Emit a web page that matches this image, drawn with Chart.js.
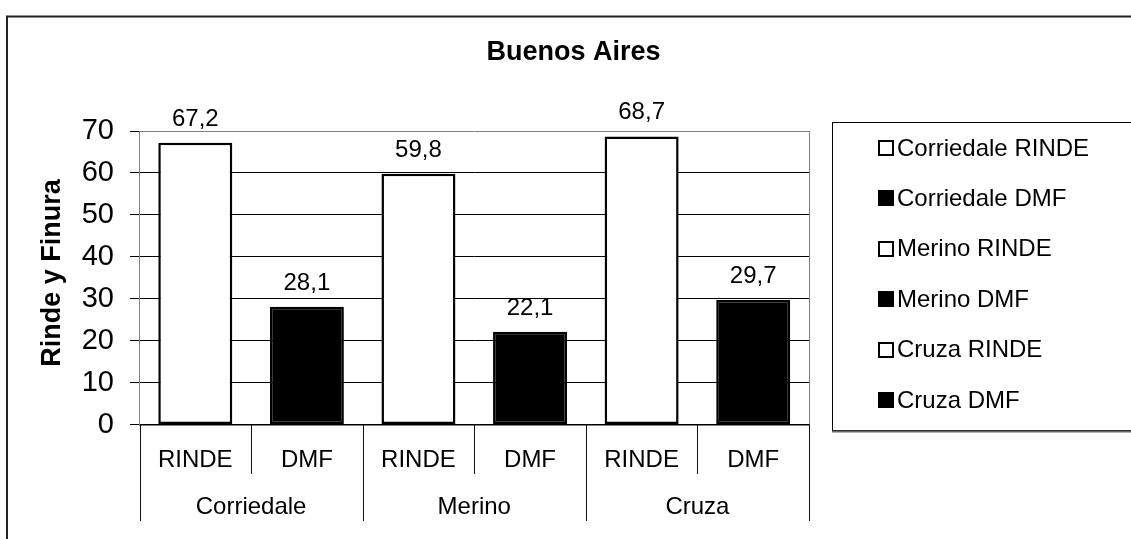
<!DOCTYPE html>
<html>
<head>
<meta charset="utf-8">
<script src="https://cdn.jsdelivr.net/npm/chart.js@4"></script>
<style>
  html, body { margin: 0; padding: 0; background: #fff; }
  canvas { display: block; }
</style>
</head>
<body>
<canvas id="c" width="1131" height="539"></canvas>
<script>
const chartTitle = 'Buenos Aires';
const yAxisTitle = 'Rinde y Finura';
const breeds = ['Corriedale', 'Merino', 'Cruza'];
const measures = ['RINDE', 'DMF'];
const rindeValues = [67.2, 59.8, 68.7];
const dmfValues = [28.1, 22.1, 29.7];
const yMin = 0, yMax = 70, yStep = 10;

const FONT = '"Liberation Sans", Arial, sans-serif';

const categoryLabels = [];
breeds.forEach(b => measures.forEach(m => categoryLabels.push(b + ' ' + m)));

const datasets = [];
breeds.forEach((b, i) => {
  measures.forEach((m, j) => {
    const v = m === 'RINDE' ? rindeValues[i] : dmfValues[i];
    datasets.push({
      label: b + ' ' + m,
      measure: m,
      data: [{ x: b + ' ' + m, y: v }],
      backgroundColor: m === 'RINDE' ? '#ffffff' : '#000000',
      borderColor: '#000000',
      borderWidth: 2.5,
      borderSkipped: false
    });
  });
});

const PLOT = { left: 139.5, right: 809, top: 131, bottom: 424.5 };

const decor = {
  id: 'decor',
  beforeDraw(chart) {
    const ctx = chart.ctx;
    ctx.save();
    ctx.fillStyle = '#fff';
    ctx.fillRect(0, 0, chart.width, chart.height);
    ctx.restore();
  },
  afterDraw(chart) {
    const ctx = chart.ctx;
    const ca = chart.chartArea;
    const xs = chart.scales.x;
    ctx.save();

    // plot right border (gray)
    ctx.strokeStyle = '#808080';
    ctx.lineWidth = 1;
    ctx.beginPath();
    ctx.moveTo(Math.round(ca.right) + 0.5, ca.top);
    ctx.lineTo(Math.round(ca.right) + 0.5, ca.bottom);
    ctx.stroke();

    // data labels
    ctx.fillStyle = '#000';
    ctx.font = '24px ' + FONT;
    ctx.textAlign = 'center';
    ctx.textBaseline = 'alphabetic';
    chart.data.datasets.forEach((ds, di) => {
      const meta = chart.getDatasetMeta(di);
      meta.data.forEach((el, k) => {
        const v = ds.data[k].y;
        ctx.fillText(v.toFixed(1).replace('.', ','), el.x, el.y - 17);
      });
    });

    // category separators and labels
    const n = categoryLabels.length;
    const slot = (ca.right - ca.left) / n;
    ctx.strokeStyle = '#111';
    ctx.lineWidth = 1;
    for (let i = 0; i <= n; i++) {
      const x = Math.round(ca.left + i * slot) + 0.5;
      const long = (i % measures.length) === 0;
      ctx.beginPath();
      ctx.moveTo(x, ca.bottom);
      ctx.lineTo(x, long ? 521 : 474);
      ctx.stroke();
    }
    ctx.font = '24px ' + FONT;
    ctx.textBaseline = 'middle';
    ctx.textAlign = 'center';
    categoryLabels.forEach((lab, i) => {
      const x = xs.getPixelForValue(i);
      ctx.fillText(measures[i % measures.length], x, 460);
    });
    breeds.forEach((b, g) => {
      const x1 = xs.getPixelForValue(g * measures.length);
      const x2 = xs.getPixelForValue(g * measures.length + measures.length - 1);
      ctx.fillText(b, (x1 + x2) / 2, 507);
    });

    // title
    ctx.font = 'bold 27px ' + FONT;
    ctx.fillText(chartTitle, 573.5, 53);

    // y axis title
    ctx.save();
    ctx.translate(53, 273);
    ctx.rotate(-Math.PI / 2);
    ctx.font = 'bold 27px ' + FONT;
    ctx.fillText(yAxisTitle, 0, 0);
    ctx.restore();

    // legend box
    ctx.strokeStyle = '#000';
    ctx.lineWidth = 1;
    ctx.strokeRect(832.5, 122.5, 400, 308);
    ctx.strokeStyle = '#666';
    ctx.lineWidth = 2;
    ctx.beginPath();
    ctx.moveTo(832, 431.5);
    ctx.lineTo(1131, 431.5);
    ctx.stroke();

    // legend entries
    ctx.font = '24px ' + FONT;
    ctx.textAlign = 'left';
    ctx.textBaseline = 'middle';
    chart.data.datasets.forEach((ds, i) => {
      const cy = 148 + i * 50.4;
      if (ds.backgroundColor === '#000000') {
        ctx.fillStyle = '#000';
        ctx.fillRect(878, Math.round(cy) - 8, 16, 16);
      } else {
        ctx.strokeStyle = '#000';
        ctx.lineWidth = 2;
        ctx.strokeRect(879, Math.round(cy) - 7, 14, 14);
      }
      ctx.fillStyle = '#000';
      ctx.fillText(ds.label, 897, cy + 1);
    });

    // outer chart border
    ctx.strokeStyle = '#222';
    ctx.lineWidth = 2;
    ctx.strokeRect(7, 16.5, 1140, 560);

    ctx.restore();
  }
};

new Chart(document.getElementById('c'), {
  type: 'bar',
  data: { labels: categoryLabels, datasets: datasets },
  options: {
    responsive: false,
    devicePixelRatio: 1,
    animation: false,
    layout: {
      padding: { left: 0, top: PLOT.top, right: 1131 - PLOT.right, bottom: 539 - PLOT.bottom }
    },
    plugins: {
      legend: { display: false },
      title: { display: false },
      tooltip: { enabled: false }
    },
    datasets: {
      bar: { grouped: false, categoryPercentage: 1, barPercentage: 0.663 }
    },
    scales: {
      x: {
        type: 'category',
        ticks: { display: false },
        grid: { display: false },
        border: { display: true, color: '#000', width: 1.5 },
        afterFit(scale) { scale.height = 0; }
      },
      y: {
        min: yMin,
        max: yMax,
        ticks: {
          stepSize: yStep,
          color: '#000',
          padding: 16,
          font: { family: FONT, size: 29 }
        },
        grid: {
          color: c => (c.tick && c.tick.value === yMax) ? '#808080' : '#000',
          lineWidth: 1,
          tickColor: '#000',
          tickLength: 9.5,
          drawTicks: true
        },
        border: { display: true, color: '#808080', width: 1 },
        afterFit(scale) { scale.width = PLOT.left; }
      }
    }
  },
  plugins: [decor]
});
</script>
</body>
</html>
